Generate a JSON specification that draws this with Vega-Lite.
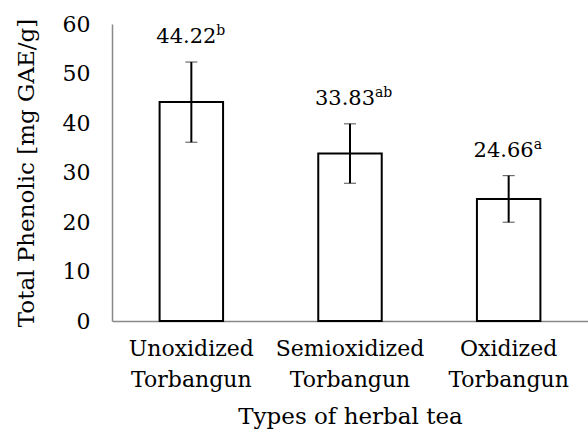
{
  "$schema": "https://vega.github.io/schema/vega-lite/v6.json",
  "width": 476,
  "height": 297,
  "autosize": {"type": "none"},
  "padding": {"left": 112, "top": 24, "right": 0, "bottom": 114},
  "background": "white",
  "config": {
    "view": {"stroke": null},
    "font": "DejaVu Serif"
  },
  "data": {
    "values": [
      {"type": "Unoxidized Torbangun", "mean": 44.22, "lo": 36.12, "hi": 52.32, "num": "44.22", "sup": "b"},
      {"type": "Semioxidized Torbangun", "mean": 33.83, "lo": 27.83, "hi": 39.83, "num": "33.83", "sup": "ab"},
      {"type": "Oxidized Torbangun", "mean": 24.66, "lo": 19.96, "hi": 29.36, "num": "24.66", "sup": "a"}
    ]
  },
  "encoding": {
    "x": {
      "field": "type",
      "type": "nominal",
      "sort": null,
      "scale": {"paddingInner": 0.6, "paddingOuter": 0.3},
      "axis": {
        "title": "Types of herbal tea",
        "titleFont": "DejaVu Serif",
        "titleFontWeight": "normal",
        "titleFontSize": 23,
        "titleColor": "black",
        "titlePadding": 15,
        "labelFontSize": 22,
        "labelFont": "DejaVu Serif",
        "labelColor": "black",
        "labelAngle": 0,
        "labelExpr": "split(datum.label, ' ')",
        "labelLineHeight": 31,
        "labelPadding": 17,
        "ticks": false,
        "domainColor": "#898989",
        "domainWidth": 1.5
      }
    }
  },
  "layer": [
    {
      "mark": {"type": "bar", "fill": "white", "stroke": "black", "strokeWidth": 2},
      "encoding": {
        "y": {
          "field": "mean",
          "type": "quantitative",
          "title": "Total Phenolic [mg GAE/g]",
          "scale": {"domain": [0, 60], "nice": false},
          "axis": {
            "titleFont": "DejaVu Serif",
            "titleFontWeight": "normal",
            "titleFontSize": 23,
            "titleColor": "black",
            "titlePadding": 24,
            "values": [0, 10, 20, 30, 40, 50, 60],
            "labelFont": "DejaVu Serif",
            "labelFontSize": 22,
            "labelColor": "black",
            "labelPadding": 22,
            "ticks": false,
            "grid": false,
            "domainColor": "#898989",
            "domainWidth": 1.5
          }
        }
      }
    },
    {
      "mark": {"type": "errorbar", "ticks": {"size": 12, "color": "black", "strokeWidth": 2}, "rule": {"color": "black", "strokeWidth": 2}},
      "encoding": {
        "y": {"field": "lo", "type": "quantitative", "title": "Total Phenolic [mg GAE/g]"},
        "y2": {"field": "hi"}
      }
    },
    {
      "mark": {"type": "text", "font": "DejaVu Serif", "fontSize": 21, "color": "black", "baseline": "alphabetic", "align": "center", "dx": -5, "dy": -19},
      "encoding": {
        "y": {"field": "hi", "type": "quantitative", "title": "Total Phenolic [mg GAE/g]"},
        "text": {"field": "num"}
      }
    },
    {
      "mark": {"type": "text", "font": "DejaVu Serif", "fontSize": 14, "color": "black", "baseline": "alphabetic", "align": "left", "dx": 25, "dy": -27},
      "encoding": {
        "y": {"field": "hi", "type": "quantitative", "title": "Total Phenolic [mg GAE/g]"},
        "text": {"field": "sup"}
      }
    }
  ]
}
